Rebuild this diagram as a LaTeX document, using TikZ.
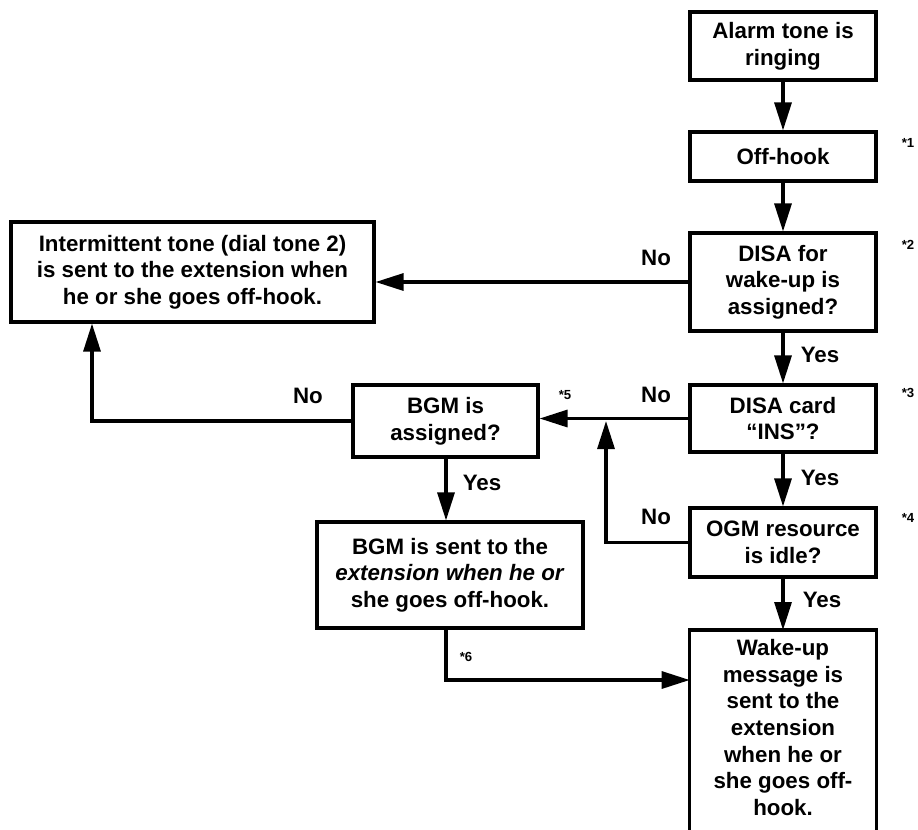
\documentclass[tikz,border=0pt]{standalone}
\usepackage{fontspec}
\setmainfont{Liberation Sans}
\usetikzlibrary{arrows.meta}

\tikzset{
  box/.style = {rectangle, draw, line width=1.8pt, align=center, inner sep=1pt,
                font=\bfseries\fontsize{12.7}{15.2}\selectfont},
  txt/.style = {align=center, inner sep=1pt,
                font=\bfseries\fontsize{12.7}{15.2}\selectfont},
  nota/.style = {inner sep=0pt, font=\bfseries\fontsize{7.5}{8}\selectfont},
  linha/.style = {line width=1.8pt},
  seta/.style = {line width=1.8pt, -{Triangle[length=0.56cm,width=0.34cm]}},
}

\begin{document}
\begin{tikzpicture}[x=0.02cm, y=-0.02cm]
\useasboundingbox (0,0) rectangle (918,829);

% coluna da direita
\node [box, minimum width=3.72cm, minimum height=1.36cm] at (783,46) (alarm)
      {Alarm tone is\\ringing};
\node [box, minimum width=3.72cm, minimum height=0.98cm] at (783,156.5) (offhook)
      {Off-hook};
\node [box, minimum width=3.72cm, minimum height=1.96cm] at (783,282) (dwake)
      {DISA for\\wake-up is\\assigned?};
\node [box, minimum width=3.72cm, minimum height=1.34cm] at (783,418.5) (dcard)
      {DISA card\\``INS''?};
\node [box, minimum width=3.72cm, minimum height=1.38cm] at (783,542.5) (ogm)
      {OGM resource\\is idle?};
\node [txt, anchor=north, minimum width=3.72cm, inner ysep=5pt] at (783,630) (wake)
      {Wake-up\\message is\\sent to the\\extension\\when he or\\she goes off-\\hook.};
\draw [linha] (wake.north west |- 0,850) -- (wake.north west)
      -- (wake.north east) -- (wake.north east |- 0,850);

% coluna da esquerda
\node [box, minimum width=7.26cm, minimum height=2.0cm] at (192.5,272) (inter)
      {Intermittent tone (dial tone 2)\\is sent to the extension when\\he or she goes off-hook.};
\node [box, minimum width=3.7cm, minimum height=1.44cm] at (445.5,421) (bgmq)
      {BGM is\\assigned?};
\node [box, minimum width=5.32cm, minimum height=2.12cm] at (450,575) (bgms)
      {BGM is sent to the\\\textit{extension when he or}\\she goes off-hook.};

% pontos auxiliares
\coordinate (jn) at (606,421);
\coordinate (lft) at (92,421);
\coordinate (bend) at (446,680);

% conexões
\draw [seta] (alarm) -- (offhook);
\draw [seta] (offhook) -- (dwake);
\draw [seta] (dwake) -- (dcard);
\draw [seta] (dcard) -- (ogm);
\draw [seta] (ogm) -- (wake.north);
\draw [seta] (dwake.west) -- (dwake.west -| inter.east);
\draw [seta] (dcard.west) -- (dcard.west -| bgmq.east);
\draw [seta] (ogm.west) -| (jn);
\draw [seta] (bgmq.west) -- (lft) -- (lft |- inter.south);
\draw [seta] (bgmq.south -| bend) -- (bgms.north -| bend);
\draw [seta] (bgms.south -| bend) -- (bend) -- (bend -| wake.west);

% rótulos
\node [txt] at (656,258) (n1) {No};
\node [txt] at (656,395) (n2) {No};
\node [txt] at (656,517) (n3) {No};
\node [txt] at (308,396) (n4) {No};
\node [txt] at (820,355) (s1) {Yes};
\node [txt] at (820,478) (s2) {Yes};
\node [txt] at (822,600) (s3) {Yes};
\node [txt] at (482,483) (s4) {Yes};

% notas
\node [nota] at (908,143) (a1) {*1};
\node [nota] at (908,245) (a2) {*2};
\node [nota] at (908,393) (a3) {*3};
\node [nota] at (908,518) (a4) {*4};
\node [nota] at (565,395) (a5) {*5};
\node [nota] at (466,657) (a6) {*6};
\end{tikzpicture}
\end{document}
